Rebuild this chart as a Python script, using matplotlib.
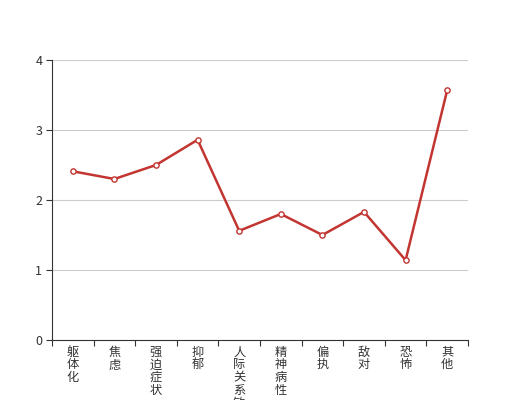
import matplotlib
matplotlib.use("Agg")
import matplotlib.pyplot as plt

plt.rcParams['font.family'] = ['Noto Sans CJK SC', 'DejaVu Sans']

categories = ['躯体化', '焦虑', '强迫症状', '抑郁', '人际关系敏感',
              '精神病性', '偏执', '敌对', '恐怖', '其他']
values = [2.41, 2.30, 2.50, 2.86, 1.56, 1.80, 1.50, 1.83, 1.14, 3.57]
y_ticks = [0, 1, 2, 3, 4]

fig = plt.figure(figsize=(5.2, 4.0), dpi=100)
ax = fig.add_axes([0.1, 0.15, 0.8, 0.7])

x = list(range(len(categories)))
ax.plot(x, values, color='#c23531', linewidth=1.8, marker='o', markersize=3.8,
        markerfacecolor='white', markeredgecolor='#c23531', markeredgewidth=1.0,
        zorder=3)

ax.set_xlim(-0.5, len(categories) - 0.5)
ax.set_ylim(0, 4)
ax.set_yticks(y_ticks)
ax.yaxis.grid(True, color='#cccccc', linewidth=0.8)
ax.set_axisbelow(True)

# category labels, one character per line (the long one runs off the bottom, as in the original)
ax.set_xticks(x)
ax.set_xticklabels(['\n'.join(c) for c in categories], linespacing=0.98,
                   va='top')
ax.set_xticks([i - 0.5 for i in range(len(categories) + 1)], minor=True)
ax.tick_params(axis='x', which='major', length=0, pad=4, labelsize=8.8,
               labelcolor='#333333')
ax.tick_params(axis='x', which='minor', length=4, color='#333333', width=0.8)
ax.tick_params(axis='y', length=4, color='#333333', width=0.8, labelsize=9,
               labelcolor='#333333', pad=3)

for side in ['top', 'right']:
    ax.spines[side].set_visible(False)
for side in ['left', 'bottom']:
    ax.spines[side].set_color('#333333')
    ax.spines[side].set_linewidth(0.8)

fig.savefig('out.png', dpi=100)
